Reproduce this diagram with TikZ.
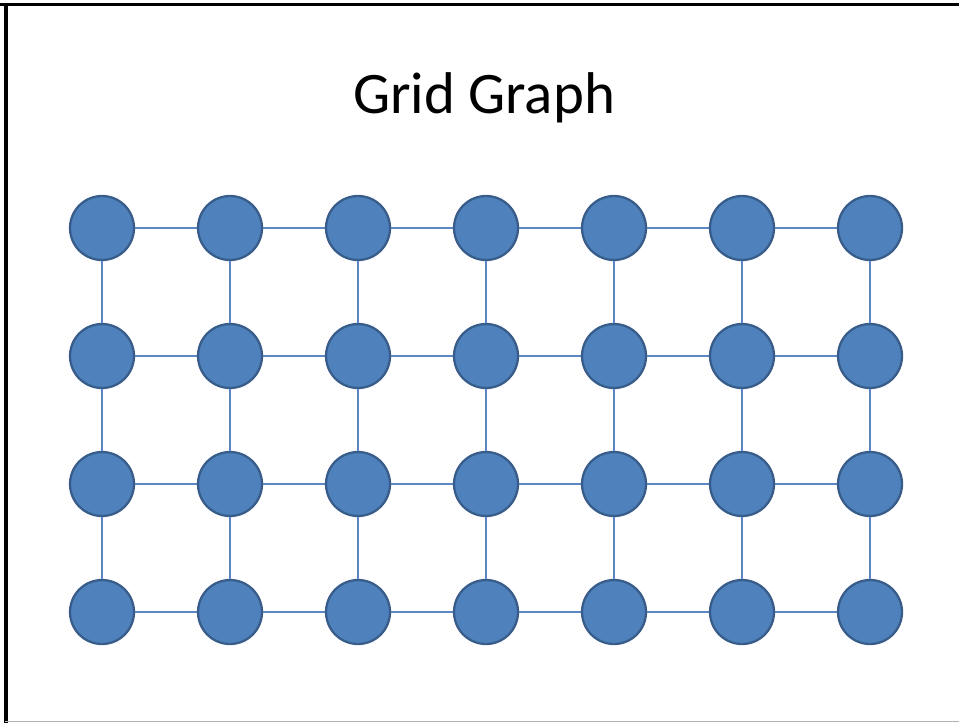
\documentclass[tikz,border=0pt]{standalone}
\usepackage{fontspec}
\setmainfont{Carlito}
\usepackage{tikz}

\definecolor{vfill}{HTML}{4F81BD}
\definecolor{vedge}{HTML}{385D8A}
\definecolor{link}{HTML}{5B87C0}

\tikzset{
  vertex/.style={circle, draw=vedge, fill=vfill, line width=1.3pt,
                 minimum size=1.28cm, inner sep=0pt},
  link/.style={draw=link, line width=0.8pt}
}

\begin{document}
\begin{tikzpicture}[x=0.02cm, y=-0.02cm]
    \useasboundingbox (0,0) rectangle (959,723);
    % Slide frame
    \draw[line width=2.2pt] (0,4.5) -- (959,4.5);
    \draw[line width=2.2pt] (6,3) -- (6,723);
    \draw[gray!60, line width=0.8pt] (5,721.5) -- (959,721.5);

    % Title
    \node[anchor=base] (title) at (484,113) {\fontsize{33.5}{40}\selectfont Grid Graph};

    % Vertices, 7 columns by 4 rows
    \foreach \c in {0,...,6} {
        \foreach \r in {0,...,3} {
            \node[vertex] (v\c\r) at (102+128*\c, 228+128*\r) {};
        }
    }

    % Horizontal edges
    \foreach \r in {0,...,3} {
        \foreach \c [evaluate=\c as \n using int(\c+1)] in {0,...,5} {
            \draw[link] (v\c\r) -- (v\n\r);
        }
    }
    % Vertical edges
    \foreach \c in {0,...,6} {
        \foreach \r [evaluate=\r as \n using int(\r+1)] in {0,...,2} {
            \draw[link] (v\c\r) -- (v\c\n);
        }
    }
\end{tikzpicture}
\end{document}
